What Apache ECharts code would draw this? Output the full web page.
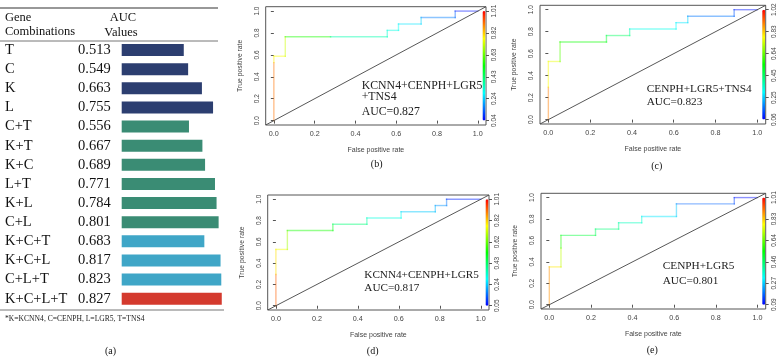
<!DOCTYPE html>
<html>
<head>
<meta charset="utf-8">
<script src="https://cdn.jsdelivr.net/npm/echarts@6/dist/echarts.min.js"></script>
<style>
html, body { margin: 0; padding: 0; background: #fff; }
#chart { width: 784px; height: 358px; }
</style>
</head>
<body>
<div id="chart"></div>
<script>
// panel (a): AUC of gene combinations
var genes = ['T', 'C', 'K', 'L', 'C+T', 'K+T', 'K+C', 'L+T', 'K+L', 'C+L', 'K+C+T', 'K+C+L', 'C+L+T', 'K+C+L+T'];
var aucValues = [0.513, 0.549, 0.663, 0.755, 0.556, 0.667, 0.689, 0.771, 0.784, 0.801, 0.683, 0.817, 0.823, 0.827];
var groups = [0, 0, 0, 0, 1, 1, 1, 1, 1, 1, 2, 2, 2, 3];
var groupColors = ['#2c3e70', '#3a8c74', '#3fa6c7', '#d43a2e'];

// ROC curves (b)-(e): fpr, tpr and cutoff at each point
var rocB_fpr = [0, 0, 0, 0.056, 0.056, 0.278, 0.556, 0.556, 0.611, 0.611, 0.722, 0.722, 0.889, 0.889, 1];
var rocB_tpr = [0, 0.529, 0.588, 0.588, 0.765, 0.765, 0.765, 0.824, 0.824, 0.882, 0.882, 0.941, 0.941, 1, 1];
var rocB_cut = [1.01, 0.9, 0.78, 0.76, 0.72, 0.55, 0.36, 0.33, 0.31, 0.29, 0.26, 0.24, 0.16, 0.13, 0.06];

var rocC_fpr = [0, 0, 0, 0.056, 0.056, 0.278, 0.278, 0.389, 0.389, 0.611, 0.611, 0.667, 0.667, 0.889, 0.889, 1];
var rocC_tpr = [0, 0.294, 0.529, 0.529, 0.706, 0.706, 0.765, 0.765, 0.824, 0.824, 0.882, 0.882, 0.941, 0.941, 1, 1];
var rocC_cut = [1.02, 0.9, 0.78, 0.76, 0.62, 0.55, 0.5, 0.45, 0.4, 0.32, 0.3, 0.28, 0.26, 0.17, 0.14, 0.08];

var rocD_fpr = [0, 0, 0, 0.056, 0.056, 0.278, 0.278, 0.444, 0.444, 0.611, 0.611, 0.778, 0.778, 0.833, 0.833, 1];
var rocD_tpr = [0, 0.294, 0.529, 0.529, 0.706, 0.706, 0.765, 0.765, 0.824, 0.824, 0.882, 0.882, 0.941, 0.941, 1, 1];
var rocD_cut = [1.01, 0.92, 0.8, 0.76, 0.68, 0.55, 0.5, 0.42, 0.38, 0.32, 0.3, 0.24, 0.22, 0.19, 0.16, 0.08];

var rocE_fpr = [0, 0, 0.056, 0.056, 0.056, 0.222, 0.222, 0.333, 0.333, 0.444, 0.444, 0.611, 0.611, 0.889, 0.889, 1];
var rocE_tpr = [0, 0.353, 0.353, 0.529, 0.647, 0.647, 0.706, 0.706, 0.765, 0.765, 0.824, 0.824, 0.941, 0.941, 1, 1];
var rocE_cut = [1.01, 0.88, 0.8, 0.72, 0.58, 0.5, 0.47, 0.44, 0.42, 0.38, 0.36, 0.3, 0.27, 0.18, 0.15, 0.1];

// colour bar range and tick labels
var cbRange = [[0.04, 1.01], [0.06, 1.02], [0.05, 1.01], [0.09, 1.01]];
var cbLabels = [
	['0.04', '0.24', '0.43', '0.63', '0.82', '1.01'],
	['0.06', '0.25', '0.45', '0.64', '0.83', '1.02'],
	['0.05', '0.24', '0.43', '0.62', '0.82', '1.01'],
	['0.09', '0.27', '0.46', '0.64', '0.83', '1.01']
];
var rocTitles = [
	['KCNN4+CENPH+LGR5', '+TNS4', 'AUC=0.827'],
	['CENPH+LGR5+TNS4', 'AUC=0.823'],
	['KCNN4+CENPH+LGR5', 'AUC=0.817'],
	['CENPH+LGR5', 'AUC=0.801']
];
var panelTags = ['(b)', '(c)', '(d)', '(e)'];
var rocTicks = [0, 0.2, 0.4, 0.6, 0.8, 1];

var rocs = [
	[rocB_fpr, rocB_tpr, rocB_cut],
	[rocC_fpr, rocC_tpr, rocC_cut],
	[rocD_fpr, rocD_tpr, rocD_cut],
	[rocE_fpr, rocE_tpr, rocE_cut]
];

// layout of each roc panel (plot box), text positions
var boxes = [
	{left: 265.7, top: 6.7, width: 220.3, height: 118.3},
	{left: 540, top: 5.3, width: 225.7, height: 118.7},
	{left: 267.7, top: 195, width: 221.3, height: 115},
	{left: 541, top: 193.3, width: 224.7, height: 115.7}
];
var notePos = [
	{x: 361.7, ys: [86.3, 97, 112.3], size: 11.8},
	{x: 646.7, ys: [89, 102], size: 11.3},
	{x: 364.3, ys: [275, 288.3], size: 11.2},
	{x: 662.7, ys: [265.7, 281], size: 11.3}
];
var tagPos = [[376.7, 164], [656.7, 166], [372.7, 351], [652.3, 350.7]];

var SERIF = '"Liberation Serif", "DejaVu Serif", serif';
var SANS = '"Liberation Sans", Arial, sans-serif';
var rainbow = ['#0000ff', '#00ffff', '#00ff00', '#ffff00', '#ff0000'];

var myChart = echarts.init(document.getElementById('chart'));

var grids = [{left: 121.7, top: 40.5, width: 121, height: 267.8}];
var xAxes = [{gridIndex: 0, type: 'value', min: 0, max: 1, show: false}];
var yAxes = [
	{
		gridIndex: 0, type: 'category', data: genes, inverse: true, position: 'left',
		axisLine: {show: false}, axisTick: {show: false}, splitLine: {show: false},
		axisLabel: {interval: 0, align: 'left', margin: 116.7, fontFamily: SERIF, fontSize: 14.5, color: '#111'}
	},
	{
		gridIndex: 0, type: 'category', data: genes, inverse: true, position: 'left',
		axisLine: {show: false}, axisTick: {show: false}, splitLine: {show: false},
		axisLabel: {
			interval: 0, align: 'left', margin: 43.7, fontFamily: SERIF, fontSize: 14.5, color: '#111',
			formatter: function (v, i) { return aucValues[i].toFixed(3); }
		}
	}
];
var series = [{
	type: 'bar',
	xAxisIndex: 0,
	yAxisIndex: 0,
	barWidth: 12,
	silent: true,
	data: aucValues.map(function (v, i) {
		return {value: v, itemStyle: {color: groupColors[groups[i]]}};
	})
}];
var visualMaps = [];

var graphics = [
	{type: 'line', shape: {x1: 0, y1: 8, x2: 218, y2: 8}, style: {stroke: '#333', lineWidth: 1.2}},
	{type: 'line', shape: {x1: 0, y1: 41, x2: 218, y2: 41}, style: {stroke: '#777', lineWidth: 1}},
	{type: 'line', shape: {x1: 0, y1: 310, x2: 224, y2: 310}, style: {stroke: '#777', lineWidth: 1}},
	{type: 'text', x: 5, y: 17.5, style: {text: 'Gene', font: '12.5px ' + SERIF, fill: '#111', verticalAlign: 'middle', textVerticalAlign: 'middle'}},
	{type: 'text', x: 5, y: 32, style: {text: 'Combinations', font: '12.5px ' + SERIF, fill: '#111', verticalAlign: 'middle', textVerticalAlign: 'middle'}},
	{type: 'text', x: 123, y: 17.5, style: {text: 'AUC', font: '12.5px ' + SERIF, fill: '#111', align: 'center', textAlign: 'center', verticalAlign: 'middle', textVerticalAlign: 'middle'}},
	{type: 'text', x: 121, y: 33, style: {text: 'Values', font: '12.5px ' + SERIF, fill: '#111', align: 'center', textAlign: 'center', verticalAlign: 'middle', textVerticalAlign: 'middle'}},
	{type: 'text', x: 5, y: 319, style: {text: '*K=KCNN4, C=CENPH, L=LGR5, T=TNS4', font: '7.6px ' + SERIF, fill: '#222', verticalAlign: 'middle', textVerticalAlign: 'middle'}},
	{type: 'text', x: 110.5, y: 351, style: {text: '(a)', font: '10px ' + SERIF, fill: '#111', align: 'center', textAlign: 'center', verticalAlign: 'middle', textVerticalAlign: 'middle'}}
];

rocs.forEach(function (roc, k) {
	var box = boxes[k];
	var xi = k + 1;
	var yl = 2 + k * 2;
	grids.push({
		left: box.left, top: box.top, width: box.width, height: box.height,
		show: true, borderColor: '#555', borderWidth: 1, backgroundColor: 'transparent'
	});
	xAxes.push({
		gridIndex: k + 1, type: 'value', min: -0.04, max: 1.04,
		splitLine: {show: false}, axisLine: {show: false},
		axisTick: {show: true, length: 3, customValues: rocTicks, lineStyle: {color: '#555'}},
		axisLabel: {customValues: rocTicks, margin: 6, fontFamily: SANS, fontSize: 7.2, color: '#444',
			formatter: function (v) { return v.toFixed(1); }},
		name: 'False positive rate', nameLocation: 'middle', nameGap: 22,
		nameTextStyle: {fontFamily: SANS, fontSize: 7, color: '#444'}
	});
	yAxes.push({
		gridIndex: k + 1, type: 'value', min: -0.04, max: 1.04, position: 'left',
		splitLine: {show: false}, axisLine: {show: false},
		axisTick: {show: true, length: 3, customValues: rocTicks, lineStyle: {color: '#555'}},
		axisLabel: {customValues: rocTicks, rotate: 90, margin: 5, fontFamily: SANS, fontSize: 6.5, color: '#444',
			formatter: function (v) { return v.toFixed(1); }},
		name: 'True positive rate', nameLocation: 'middle', nameGap: 22,
		nameTextStyle: {fontFamily: SANS, fontSize: 6.8, color: '#444'}
	});
	yAxes.push({
		gridIndex: k + 1, type: 'value', min: -0.04, max: 1.04, position: 'right',
		splitLine: {show: false}, axisLine: {show: false},
		axisTick: {show: true, length: 3, customValues: rocTicks, lineStyle: {color: '#555'}},
		axisLabel: {customValues: rocTicks, rotate: 90, margin: 5, fontFamily: SANS, fontSize: 6.5, color: '#444',
			formatter: function (v) { return cbLabels[k][Math.round(v * 5)]; }}
	});
	// diagonal reference
	series.push({
		type: 'line', xAxisIndex: xi, yAxisIndex: yl, symbol: 'none', silent: true,
		data: [[-0.04, -0.04], [1.04, 1.04]],
		lineStyle: {color: '#444', width: 0.9}
	});
	// coloured roc steps
	var fpr = roc[0], tpr = roc[1], cut = roc[2];
	var segs = [];
	for (var i = 0; i < fpr.length - 1; i++) {
		segs.push([fpr[i], tpr[i], fpr[i + 1], tpr[i + 1], cut[i + 1]]);
	}
	series.push({
		type: 'custom', xAxisIndex: xi, yAxisIndex: yl, silent: true,
		dimensions: ['x1', 'y1', 'x2', 'y2', 'cut'],
		encode: {x: [0, 2], y: [1, 3]},
		data: segs,
		renderItem: function (params, api) {
			var p1 = api.coord([api.value(0), api.value(1)]);
			var p2 = api.coord([api.value(2), api.value(3)]);
			return {
				type: 'line',
				shape: {x1: p1[0], y1: p1[1], x2: p2[0], y2: p2[1]},
				style: {stroke: api.visual('color'), lineWidth: 1.4, opacity: 0.45, lineCap: 'square'}
			};
		}
	});
	var unit = box.height / 1.08;
	visualMaps.push({
		type: 'continuous',
		seriesIndex: series.length - 1,
		dimension: 4,
		min: cbRange[k][0], max: cbRange[k][1],
		inRange: {color: rainbow},
		calculable: false,
		padding: 0,
		itemWidth: 3,
		itemHeight: unit,
		left: box.left + box.width - 3.5,
		top: box.top + 0.04 * unit,
		hoverLink: false
	});
	var np = notePos[k];
	rocTitles[k].forEach(function (t, j) {
		graphics.push({type: 'text', x: np.x, y: np.ys[j], style: {text: t, font: np.size + 'px ' + SERIF, fill: '#222', verticalAlign: 'middle', textVerticalAlign: 'middle'}});
	});
	graphics.push({type: 'text', x: tagPos[k][0], y: tagPos[k][1], style: {text: panelTags[k], font: '10px ' + SERIF, fill: '#111', align: 'center', textAlign: 'center', verticalAlign: 'middle', textVerticalAlign: 'middle'}});
});

myChart.setOption(option = {
	animation: false,
	backgroundColor: '#fff',
	grid: grids,
	xAxis: xAxes,
	yAxis: yAxes,
	visualMap: visualMaps,
	series: series,
	graphic: {elements: graphics}
});
</script>
</body>
</html>
